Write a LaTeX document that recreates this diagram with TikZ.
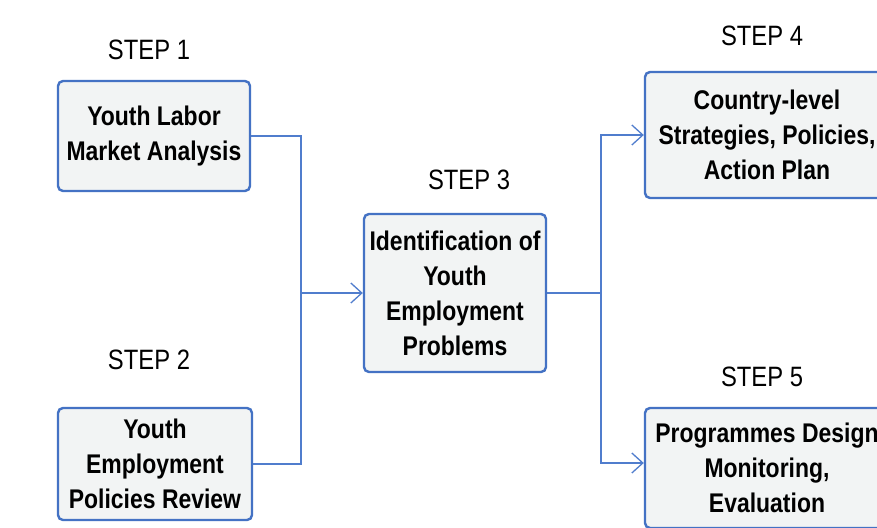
\documentclass[tikz,border=0pt]{standalone}
\usepackage{fontspec}
\setmainfont{Liberation Sans}[FakeStretch=0.85]
\usetikzlibrary{arrows.meta}
\definecolor{boxblue}{RGB}{68,114,196}
\definecolor{boxfill}{RGB}{242,244,244}
\definecolor{linkblue}{RGB}{80,125,205}
\tikzset{
  stepbox/.style={draw=boxblue, line width=2.4pt, fill=boxfill, rounded corners=5pt,
    align=center, font=\fontsize{27}{35}\selectfont\bfseries, inner sep=0pt},
  steplabel/.style={font=\fontsize{28}{30}\selectfont, inner sep=0pt},
  link/.style={draw=linkblue, line width=1.3pt},
  linkarrow/.style={link, -{Straight Barb[length=11pt,width=20pt,line width=1.3pt]}}
}
\begin{document}
\begin{tikzpicture}[x=1pt,y=-1pt]
\useasboundingbox (0,0) rectangle (877,527);
\clip (0,0) rectangle (877,527);
\fill[white] (0,0) rectangle (877,527);

\node[stepbox, minimum width=192pt, minimum height=110pt] (b1) at (154,136) {Youth Labor\\Market Analysis};
\node[stepbox, minimum width=194pt, minimum height=112pt] (b2) at (155,464) {Youth\\Employment\\Policies Review};
\node[stepbox, minimum width=182pt, minimum height=158pt] (b3) at (455,293) {Identification of\\Youth\\Employment\\Problems};
\node[stepbox, minimum width=244pt, minimum height=126pt] (b4) at (767,135) {Country-level\\Strategies, Policies,\\Action Plan};
\node[stepbox, minimum width=244pt, minimum height=120pt] (b5) at (767,468) {Programmes Design\\Monitoring,\\Evaluation};

\node[steplabel] (s1) at (149,50) {STEP 1};
\node[steplabel] (s2) at (149,360) {STEP 2};
\node[steplabel] (s3) at (469,180) {STEP 3};
\node[steplabel] (s4) at (762,36) {STEP 4};
\node[steplabel] (s5) at (762,377) {STEP 5};

\coordinate (jl) at (301,293);
\coordinate (jr) at (601,293);

\draw[link] (b1.east) -| (jl);
\draw[link] (b2.east) -| (jl);
\draw[linkarrow] (jl) -- (b3.west);
\draw[link] (b3.east) -- (jr);
\draw[linkarrow] (jr) |- (b4.west);
\draw[linkarrow] (jr) |- (b5.west |- 0,463);
\end{tikzpicture}
\end{document}
